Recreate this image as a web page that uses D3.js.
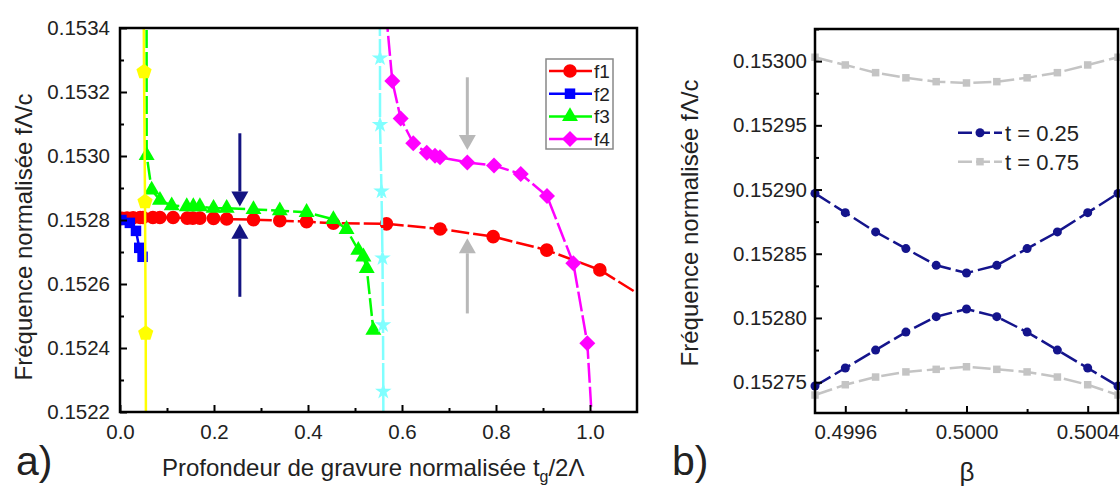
<!DOCTYPE html>
<html><head><meta charset="utf-8">
<script src="https://cdn.jsdelivr.net/npm/d3@7"></script>
<style>
body{margin:0;background:#fff}
svg{display:block}
text{font-family:"Liberation Sans",Arial,sans-serif;fill:#222}
</style>
</head><body>
<svg id="c" width="1120" height="486"></svg>
<script>
// ---------- data: panel a ----------
const f1 = [[0.004,0.152805],[0.015,0.152806],[0.028,0.152807],[0.043,0.152808],[0.049,0.152808],[0.070,0.152808],[0.085,0.152808],[0.113,0.152808],[0.143,0.152806],[0.155,0.152806],[0.170,0.152806],[0.199,0.152805],[0.227,0.152803],[0.284,0.152801],[0.340,0.152798],[0.397,0.152795],[0.454,0.152790],[0.567,0.152788],[0.681,0.152772],[0.794,0.152748],[0.908,0.152706],[1.021,0.152644],[1.2,0.152480]];
const f2 = [[0.003,0.152800],[0.021,0.152791],[0.034,0.152766],[0.041,0.152713],[0.048,0.152685]];
const f3 = [[0.0565,0.15360],[0.0567,0.153002],[0.0674,0.152894],[0.085,0.152862],[0.110,0.152845],[0.142,0.152842],[0.156,0.152842],[0.170,0.152842],[0.199,0.152837],[0.227,0.152837],[0.284,0.152833],[0.340,0.152829],[0.397,0.152824],[0.454,0.152802],[0.482,0.152771],[0.507,0.152706],[0.518,0.152685],[0.525,0.152649],[0.539,0.152456]];
const f4 = [[0.566,0.15345],[0.5794,0.153234],[0.5972,0.153117],[0.6240,0.153040],[0.6526,0.153010],[0.6702,0.153001],[0.6809,0.152996],[0.7389,0.152980],[0.7957,0.152970],[0.8526,0.152944],[0.9085,0.152875],[0.9645,0.152665],[0.9943,0.152415],[1.0055,0.15214]];
const fYellow = [[0.0505,0.15345],[0.0511,0.153263],[0.0532,0.152857],[0.0547,0.152446],[0.0552,0.15215]];
const fCyan = [[0.5528,0.15345],[0.5532,0.153306],[0.5532,0.153098],[0.5564,0.152890],[0.5585,0.152681],[0.5596,0.152472],[0.5602,0.152264],[0.5604,0.15215]];
const legendA = ["f1","f2","f3","f4"];
const arrowsA = [
  {x:0.255, from:0.153071, to:0.152842, c:"#141482"},
  {x:0.255, from:0.152560, to:0.152788, c:"#141482"},
  {x:0.739, from:0.153246, to:0.153019, c:"#b8b8b8"},
  {x:0.739, from:0.152508, to:0.152743, c:"#b8b8b8"}
];
const xTicksA = [0,0.2,0.4,0.6,0.8,1.0];
const xMinorA = [0.1,0.3,0.5,0.7,0.9];
const yTicksA = [0.1522,0.1524,0.1526,0.1528,0.1530,0.1532,0.1534];
const yMinorA = [0.1523,0.1525,0.1527,0.1529,0.1531,0.1533];

// ---------- data: panel b ----------
const beta = [0.4995,0.4996,0.4997,0.4998,0.4999,0.5000,0.5001,0.5002,0.5003,0.5004,0.5005];
const t025Upper = [0.152897,0.152882,0.152867,0.152854,0.152841,0.152835,0.152841,0.152854,0.152867,0.152882,0.152897];
const t025Lower = [0.152747,0.152761,0.152775,0.152789,0.152801,0.152807,0.152801,0.152789,0.152775,0.152761,0.152747];
const t075Upper = [0.153003,0.152997,0.152991,0.152987,0.152984,0.152983,0.152984,0.152987,0.152991,0.152997,0.153003];
const t075Lower = [0.152740,0.152748,0.152754,0.152758,0.152760,0.152762,0.152760,0.152758,0.152754,0.152748,0.152740];
const legendB = ["t = 0.25","t = 0.75"];
const xTicksB = [0.4996,0.5000,0.5004];
const xMinorB = [0.4998,0.5002];
const yTicksB = [0.15275,0.15280,0.15285,0.15290,0.15295,0.15300];
const yMinorB = [0.152775,0.152825,0.152875,0.152925,0.152975,0.153025];

// ---------- setup ----------
const svg = d3.select("#c");
const xA = d3.scaleLinear([0,1.1],[120,637]);
const yA = d3.scaleLinear([0.1522,0.1534],[412,28]);
const xB = d3.scaleLinear([0.4995,0.5005],[815,1118]);
const yB = d3.scaleLinear([0.152726,0.153025],[413,29]);

const sym = {
  circle: r => d3.symbol(d3.symbolCircle, Math.PI*r*r)(),
  square: s => d3.symbol(d3.symbolSquare, s*s)(),
  triangle: a => d3.symbol(d3.symbolTriangle, a)(),
  diamond: r => `M0,${-r}L${r},0L0,${r}L${-r},0Z`,
  pentagon: r => d3.range(5).map(k=>{const t=-Math.PI/2+k*2*Math.PI/5;return (k?"L":"M")+(r*Math.cos(t)).toFixed(2)+","+(r*Math.sin(t)).toFixed(2);}).join("")+"Z",
  star: a => d3.symbol(d3.symbolStar, a)()
};

function axes(g, x, y, xt, xm, yt, ym, xf, yf, padX, padY){
  g.append("g").attr("transform",`translate(0,${y.range()[0]})`)
    .call(d3.axisBottom(x).tickValues(xt).tickSize(-7).tickPadding(padX).tickFormat(d3.format(xf)))
    .call(s=>{s.select(".domain").remove();s.selectAll("line").attr("stroke","#000").attr("stroke-width",2);s.selectAll("text").attr("font-size",20.5).attr("fill","#222");});
  g.append("g").attr("transform",`translate(0,${y.range()[0]})`)
    .call(d3.axisBottom(x).tickValues(xm).tickSize(-4).tickFormat(""))
    .call(s=>{s.select(".domain").remove();s.selectAll("line").attr("stroke","#000").attr("stroke-width",2);});
  g.append("g").attr("transform",`translate(${x.range()[0]},0)`)
    .call(d3.axisLeft(y).tickValues(yt).tickSize(-7).tickPadding(padY).tickFormat(d3.format(yf)))
    .call(s=>{s.select(".domain").remove();s.selectAll("line").attr("stroke","#000").attr("stroke-width",2);s.selectAll("text").attr("font-size",20.5).attr("fill","#222");});
  g.append("g").attr("transform",`translate(${x.range()[0]},0)`)
    .call(d3.axisLeft(y).tickValues(ym).tickSize(-4).tickFormat(""))
    .call(s=>{s.select(".domain").remove();s.selectAll("line").attr("stroke","#000").attr("stroke-width",2);});
}

// ---------- panel a ----------
const gA = svg.append("g");
svg.append("defs").append("clipPath").attr("id","clipA").append("rect")
  .attr("x",xA.range()[0]).attr("y",yA.range()[1])
  .attr("width",xA.range()[1]-xA.range()[0]).attr("height",yA.range()[0]-yA.range()[1]);

const lineA = d3.line().x(d=>xA(d[0])).y(d=>yA(d[1]));
const inA = d => d[0]>=0 && d[0]<=1.1 && d[1]>=0.1522 && d[1]<=0.1534;
const plotA = gA.append("g").attr("clip-path","url(#clipA)");

const seriesA = [
  {data:f1, c:"#ff0000", m:sym.circle(6.8), dash:"18,4"},
  {data:f2, c:"#0000ff", m:sym.square(10.5), dash:"18,4"},
  {data:f3, c:"#00ff00", m:sym.triangle(110), dash:"18,4"},
  {data:f4, c:"#ff00ff", m:sym.diamond(8), dash:"20,4"},
  {data:fCyan, c:"#80ffff", m:sym.star(85), dash:"24,3"},
  {data:fYellow, c:"#ffff00", m:sym.pentagon(8), dash:null}
];
seriesA.forEach(s=>{
  plotA.append("path").attr("d",lineA(s.data)).attr("fill","none")
    .attr("stroke",s.c).attr("stroke-width",2.5).attr("stroke-dasharray",s.dash);
  plotA.selectAll(null).data(s.data.filter(inA)).join("path")
    .attr("transform",d=>`translate(${xA(d[0])},${yA(d[1])})`)
    .attr("d",s.m).attr("fill",s.c);
});

// arrows
arrowsA.forEach(a=>{
  const X = xA(a.x), y0 = yA(a.from), y1 = yA(a.to);
  const dir = Math.sign(y1-y0), hl = 15, hw = 8.5;
  gA.append("line").attr("x1",X).attr("x2",X).attr("y1",y0).attr("y2",y1-dir*hl)
    .attr("stroke",a.c).attr("stroke-width",3);
  gA.append("path").attr("d",`M${X},${y1}L${X-hw},${y1-dir*hl}L${X+hw},${y1-dir*hl}Z`).attr("fill",a.c);
});

axes(gA, xA, yA, xTicksA, xMinorA, yTicksA, yMinorA, ".1f", ".4f", 12, 10);
gA.append("rect").attr("x",120).attr("y",28).attr("width",517).attr("height",384)
  .attr("fill","none").attr("stroke","#000").attr("stroke-width",2.5);

// legend a
const lg = gA.append("g");
lg.append("rect").attr("x",546).attr("y",59).attr("width",67).attr("height",90)
  .attr("fill","#fff").attr("stroke","#888").attr("stroke-width",1.5);
legendA.forEach((name,i)=>{
  const s = seriesA[i], yy = 71 + i*22.7;
  lg.append("line").attr("x1",549).attr("x2",592).attr("y1",yy).attr("y2",yy).attr("stroke",s.c).attr("stroke-width",2.5);
  lg.append("path").attr("transform",`translate(570,${yy})`).attr("d",s.m).attr("fill",s.c);
  lg.append("text").attr("x",594).attr("y",yy).attr("dy","0.36em").attr("font-size",19).text(name);
});

// titles a
gA.append("text").attr("transform","translate(31.7,237) rotate(-90)").attr("text-anchor","middle")
  .attr("font-size",24).text("Fréquence normalisée fΛ/c");
const xt = gA.append("text").attr("x",162).attr("y",476).attr("font-size",24);
xt.append("tspan").text("Profondeur de gravure normalisée t");
xt.append("tspan").attr("font-size",16).attr("dy",6).text("g");
xt.append("tspan").attr("dy",-6).text("/2Λ");
gA.append("text").attr("x",16).attr("y",475).attr("font-size",41).text("a)");

// ---------- panel b ----------
const gB = svg.append("g");
const lineB = d3.line().x((d,i)=>xB(beta[i])).y(d=>yB(d));
const navy = "#14148c", gray = "#c4c4c4";
const seriesB = [
  {data:t075Upper, c:gray, m:sym.square(7.5)},
  {data:t075Lower, c:gray, m:sym.square(7.5)},
  {data:t025Upper, c:navy, m:sym.circle(4.5)},
  {data:t025Lower, c:navy, m:sym.circle(4.5)}
];
seriesB.forEach(s=>{
  gB.append("path").attr("d",lineB(s.data)).attr("fill","none")
    .attr("stroke",s.c).attr("stroke-width",2.5).attr("stroke-dasharray","18,5");
  gB.selectAll(null).data(s.data).join("path")
    .attr("transform",(d,i)=>`translate(${xB(beta[i])},${yB(d)})`)
    .attr("d",s.m).attr("fill",s.c);
});
axes(gB, xB, yB, xTicksB, xMinorB, yTicksB, yMinorB, ".4f", ".5f", 11, 8);
gB.append("rect").attr("x",815).attr("y",29).attr("width",303).attr("height",384)
  .attr("fill","none").attr("stroke","#000").attr("stroke-width",2.5);

// legend b
[{c:navy, m:sym.circle(4.5)},{c:gray, m:sym.square(7.5)}].forEach((s,i)=>{
  const yy = 132.7 + i*29;
  gB.append("line").attr("x1",958).attr("x2",1002).attr("y1",yy).attr("y2",yy)
    .attr("stroke",s.c).attr("stroke-width",2.5).attr("stroke-dasharray","14,4");
  gB.append("path").attr("transform",`translate(980,${yy})`).attr("d",s.m).attr("fill",s.c);
  gB.append("text").attr("x",1005).attr("y",yy).attr("dy","0.36em").attr("font-size",22).text(legendB[i]);
});

gB.append("text").attr("transform","translate(698,223) rotate(-90)").attr("text-anchor","middle")
  .attr("font-size",24).text("Fréquence normalisée fΛ/c");
gB.append("text").attr("x",967).attr("y",481).attr("text-anchor","middle")
  .attr("font-family","'Liberation Serif','DejaVu Serif',serif").attr("font-size",26).text("β");
gB.append("text").attr("x",672).attr("y",475).attr("font-size",41).text("b)");
</script>
</body></html>
